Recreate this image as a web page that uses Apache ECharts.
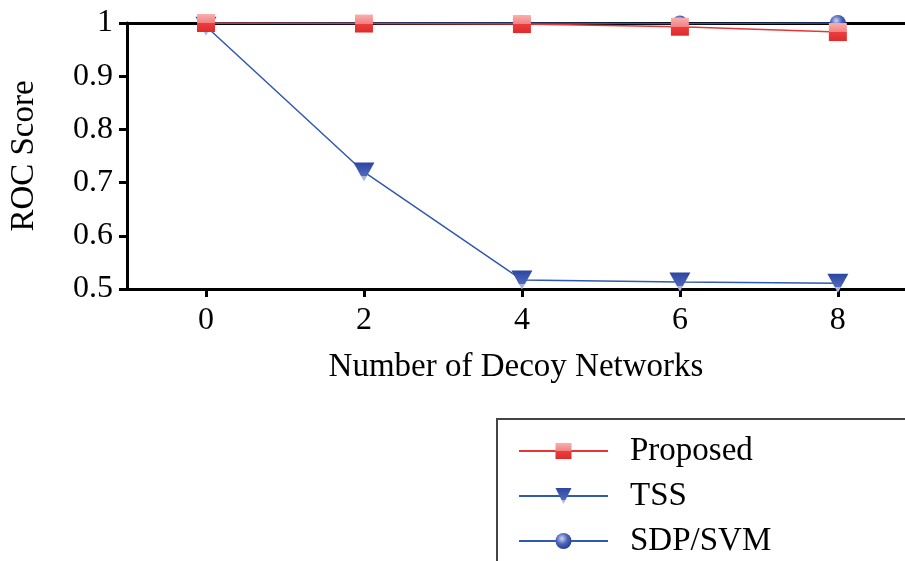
<!DOCTYPE html>
<html>
<head>
<meta charset="utf-8">
<script src="https://cdn.jsdelivr.net/npm/echarts@6/dist/echarts.min.js"></script>
<style>
  html, body { margin: 0; padding: 0; background: #fff; }
  #chart { width: 905px; height: 561px; }
</style>
</head>
<body>
<div id="chart"></div>
<script>
// data
const decoyCounts = [0, 2, 4, 6, 8]
const proposedScores = [1.0, 0.999, 0.998, 0.993, 0.983]
const tssScores = [0.994, 0.72, 0.517, 0.513, 0.511]
const sdpSvmScores = [1.0, 1.0, 1.0, 0.999, 1.0]
const yTicks = [0.5, 0.6, 0.7, 0.8, 0.9, 1]

const serif = 'Liberation Serif'

const toPairs = (xs, ys) => xs.map((x, i) => [x, ys[i]])

const chart = echarts.init(document.getElementById('chart'))

const redSquare = new echarts.graphic.LinearGradient(0, 0, 0, 1, [
  { offset: 0, color: '#f8b0b0' },
  { offset: 0.5, color: '#f28080' },
  { offset: 0.5, color: '#ea3e3e' },
  { offset: 1, color: '#e02a2a' }
])
const blueTriangle = new echarts.graphic.LinearGradient(0, 0, 0, 1, [
  { offset: 0, color: '#b3bce2' },
  { offset: 0.28, color: '#a5b0dc' },
  { offset: 0.28, color: '#5169bd' },
  { offset: 1, color: '#2c46a0' }
])
const blueBall = new echarts.graphic.RadialGradient(0.4, 0.35, 0.7, [
  { offset: 0, color: '#cdd4f2' },
  { offset: 0.5, color: '#4d64b8' },
  { offset: 1, color: '#24398e' }
])

let option = {
  animation: false,
  grid: {
    left: 122,
    right: 0,
    top: 23,
    bottom: 272
  },
  legend: {
    orient: 'vertical',
    left: 497,
    top: 419,
    height: 300,
    data: ['Proposed', 'TSS', 'SDP/SVM'],
    itemWidth: 89,
    itemHeight: 20,
    itemGap: 11,
    padding: [15, 300, 60, 21],
    borderColor: '#444',
    borderWidth: 2,
    textStyle: {
      fontFamily: serif,
      fontSize: 33,
      color: '#000',
      lineHeight: 34,
      padding: [0, 0, 0, 17]
    }
  },
  xAxis: [
    {
      type: 'value',
      min: -1,
      max: 8.85,
      name: 'Number of Decoy Networks',
      nameLocation: 'middle',
      nameGap: 62,
      nameTextStyle: { fontFamily: serif, fontSize: 33, color: '#000' },
      axisLine: { show: true, onZero: false, lineStyle: { color: '#000', width: 3 } },
      axisTick: {
        show: true,
        length: 8,
        lineStyle: { color: '#000', width: 3 },
        customValues: decoyCounts
      },
      axisLabel: {
        fontFamily: serif,
        fontSize: 32,
        color: '#000',
        margin: 16,
        customValues: decoyCounts
      },
      splitLine: { show: false }
    },
    {
      type: 'value',
      position: 'top',
      min: -1,
      max: 8.85,
      axisLine: { show: true, onZero: false, lineStyle: { color: '#000', width: 3 } },
      axisTick: { show: false },
      axisLabel: { show: false },
      splitLine: { show: false }
    }
  ],
  yAxis: {
    type: 'value',
    min: yTicks[0],
    max: yTicks[yTicks.length - 1],
    interval: 0.1,
    name: 'ROC Score',
    nameLocation: 'middle',
    nameGap: 86,
    nameTextStyle: { fontFamily: serif, fontSize: 33, color: '#000' },
    axisLine: { show: true, onZero: false, lineStyle: { color: '#000', width: 3 } },
    axisTick: { show: true, length: 8, lineStyle: { color: '#000', width: 3 } },
    axisLabel: {
      fontFamily: serif,
      fontSize: 32,
      color: '#000',
      margin: 14,
      formatter: v => String(Math.round(v * 10) / 10)
    },
    splitLine: { show: false }
  },
  series: [
    {
      name: 'SDP/SVM',
      type: 'line',
      z: 2,
      data: toPairs(decoyCounts, sdpSvmScores),
      symbol: 'circle',
      symbolSize: 16,
      lineStyle: { color: '#2f59b3', width: 1.5 },
      itemStyle: { color: blueBall, borderWidth: 0 }
    },
    {
      name: 'TSS',
      type: 'line',
      z: 3,
      data: toPairs(decoyCounts, tssScores),
      symbol: 'triangle',
      symbolRotate: 180,
      symbolSize: [21, 19],
      lineStyle: { color: '#2f59b3', width: 1.5 },
      itemStyle: { color: blueTriangle, borderWidth: 0 }
    },
    {
      name: 'Proposed',
      type: 'line',
      z: 4,
      data: toPairs(decoyCounts, proposedScores),
      symbol: 'rect',
      symbolSize: 18,
      lineStyle: { color: '#e83535', width: 1.5 },
      itemStyle: { color: redSquare, borderWidth: 0 }
    }
  ]
}

chart.setOption(option)
</script>
</body>
</html>
